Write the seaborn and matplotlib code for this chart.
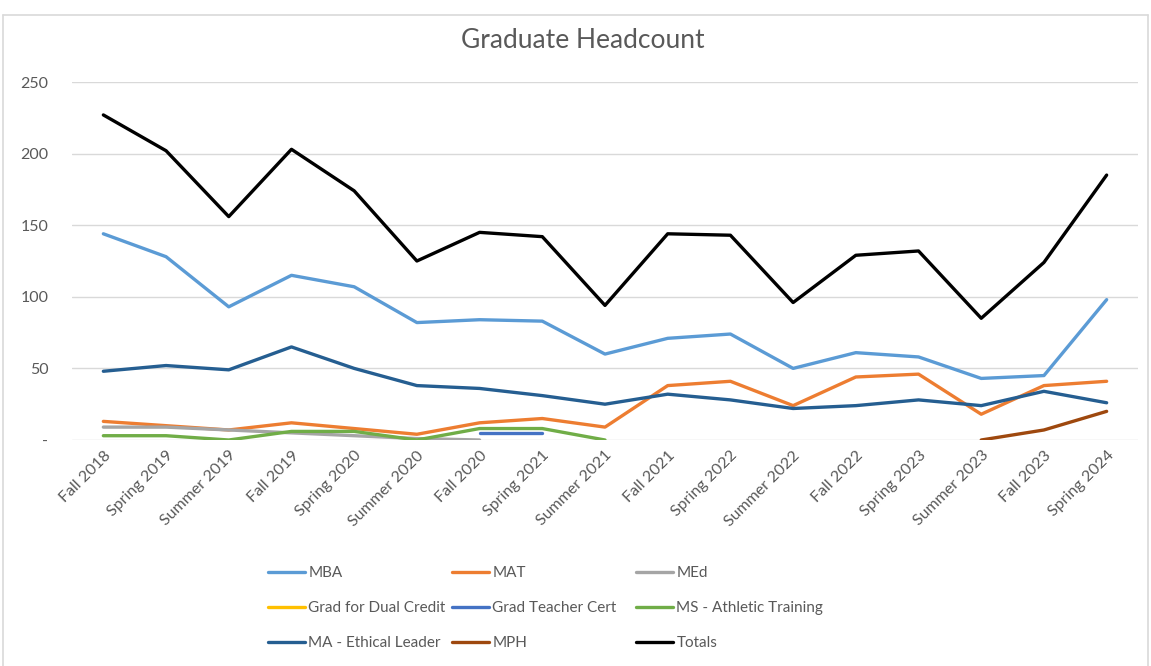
import numpy as np
import pandas as pd
import matplotlib
matplotlib.use("Agg")
import matplotlib.pyplot as plt
from matplotlib.lines import Line2D
import seaborn as sns

nan = np.nan

terms = ["Fall 2018", "Spring 2019", "Summer 2019", "Fall 2019", "Spring 2020",
         "Summer 2020", "Fall 2020", "Spring 2021", "Summer 2021", "Fall 2021",
         "Spring 2022", "Summer 2022", "Fall 2022", "Spring 2023", "Summer 2023",
         "Fall 2023", "Spring 2024"]

mba = [144, 128, 93, 115, 107, 82, 84, 83, 60, 71, 74, 50, 61, 58, 43, 45, 98]
mat = [13, 10, 7, 12, 8, 4, 12, 15, 9, 38, 41, 24, 44, 46, 18, 38, 41]
med = [9, 9, 7, 5, 3, 1, 0, nan, nan, nan, nan, nan, nan, nan, nan, nan, nan]
dual_credit = [nan] * 17
teacher_cert = [nan, nan, nan, nan, nan, nan, 5, 5, nan, nan, nan, nan, nan, nan, nan, nan, nan]
athletic = [3, 3, 0, 6, 6, 0, 8, 8, 0, nan, nan, nan, nan, nan, nan, nan, nan]
ethical = [48, 52, 49, 65, 50, 38, 36, 31, 25, 32, 28, 22, 24, 28, 24, 34, 26]
mph = [nan, nan, nan, nan, nan, nan, nan, nan, nan, nan, nan, nan, nan, nan, 0, 7, 20]
totals = [227, 202, 156, 203, 174, 125, 145, 142, 94, 144, 143, 96, 129, 132, 85, 124, 185]

series = [
    ("MBA", mba, "#5B9BD5"),
    ("MAT", mat, "#ED7D31"),
    ("MEd", med, "#A5A5A5"),
    ("Grad for Dual Credit", dual_credit, "#FFC000"),
    ("Grad Teacher Cert", teacher_cert, "#4472C4"),
    ("MS - Athletic Training", athletic, "#70AD47"),
    ("MA - Ethical Leader", ethical, "#255E91"),
    ("MPH", mph, "#9E480E"),
    ("Totals", totals, "#000000"),
]

sns.set_style("white")
plt.rcParams["font.family"] = ["Lato", "DejaVu Sans"]

fig = plt.figure(figsize=(11.51, 6.66), dpi=100)
ax = fig.add_axes([72 / 1151, 1 - 440 / 666, (1138 - 72) / 1151, (440 - 82) / 666])

x = np.arange(len(terms))
handles = []
for name, vals, col in series:
    df = pd.DataFrame({"x": x, "y": vals}).dropna()
    if len(df):
        sns.lineplot(data=df, x="x", y="y", ax=ax, color=col, linewidth=2.4,
                     solid_capstyle="round", solid_joinstyle="round", legend=False)
    handles.append(Line2D([0], [0], color=col, linewidth=2.4, solid_capstyle="round"))

ax.set_xlim(-0.5, len(terms) - 0.5)
ax.set_ylim(0, 250)
ax.set_yticks([0, 50, 100, 150, 200, 250])
ax.set_yticklabels(["-", "50", "100", "150", "200", "250"])
ax.set_xticks(x)
ax.set_xticklabels(terms, rotation=45, ha="right", va="top", rotation_mode="anchor")
ax.set_xlabel("")
ax.set_ylabel("")
ax.grid(axis="y", color="#D9D9D9", linewidth=1)
ax.set_axisbelow(True)
for s in ax.spines.values():
    s.set_visible(False)
ax.tick_params(axis="both", length=0, labelsize=11.5, labelcolor="#595959")
ax.tick_params(axis="y", pad=17)
ax.tick_params(axis="x", pad=6)

fig.text(583 / 1151, 1 - 41 / 666, "Graduate Headcount", ha="center", va="center",
         fontsize=19, color="#595959")

# legend: three columns, filled row-wise like Excel
col_x = [268, 452, 636]
for c in range(3):
    idx = [c, c + 3, c + 6]
    fig.legend([handles[i] for i in idx], [series[i][0] for i in idx],
               loc="upper left", bbox_to_anchor=(col_x[c] / 1151, 1 - 566 / 666),
               frameon=False, fontsize=11, labelcolor="#595959", borderpad=0,
               borderaxespad=0, handlelength=2.4, handletextpad=0.25, labelspacing=1.38)

# chart border
fig.add_artist(Line2D([3 / 1151, 3 / 1151], [0, 1 - 15 / 666], color="#D9D9D9", linewidth=1.2))
fig.add_artist(Line2D([3 / 1151, 1148 / 1151], [1 - 15 / 666, 1 - 15 / 666], color="#D9D9D9", linewidth=1.2))
fig.add_artist(Line2D([1148 / 1151, 1148 / 1151], [0, 1 - 15 / 666], color="#D9D9D9", linewidth=1.2))

fig.savefig("out.png", dpi=100)
